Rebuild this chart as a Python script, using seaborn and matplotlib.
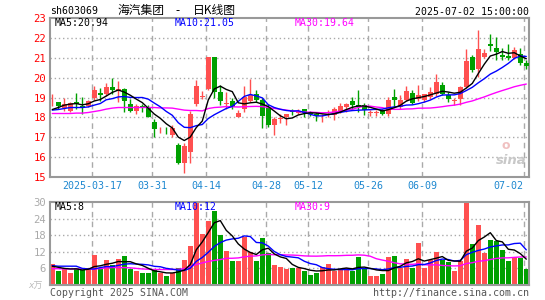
import numpy as np
import pandas as pd
import matplotlib
matplotlib.use("Agg")
import matplotlib.pyplot as plt
import seaborn as sns

# daily candles, 2025-03-06 .. 2025-07-02 (80 trading days)
opens = [18.82, 18.78, 18.50, 18.33, 18.78, 18.57, 18.60, 19.00, 19.25, 19.17,
         19.53, 19.32, 19.42, 18.70, 18.33, 18.58, 18.50, 17.75, 17.25, 17.22,
         17.12, 16.62, 15.72, 16.25, 18.70, 19.02, 19.45, 21.03, 19.28, 18.70,
         18.82, 18.02, 18.43, 18.83, 19.17, 18.87, 18.50, 17.60, 17.93, 18.03,
         18.32, 18.22, 18.42, 18.27, 18.20, 18.05, 18.15, 18.12, 18.27, 18.55,
         18.82, 18.62, 18.62, 18.25, 18.25, 18.37, 18.20, 19.03, 18.55, 18.87,
         19.25, 18.92, 18.87, 19.03, 19.17, 19.62, 19.12, 18.85, 18.95, 19.53,
         21.03, 20.42, 21.03, 21.67, 21.48, 21.12, 21.07, 20.98, 21.20, 20.73]
highs = [19.20, 18.80, 19.00, 18.80, 19.25, 19.05, 18.90, 19.58, 19.50, 19.72,
         20.00, 19.83, 19.50, 18.95, 18.70, 18.70, 18.62, 17.90, 17.50, 17.50,
         17.60, 16.72, 16.72, 18.35, 19.87, 19.35, 21.05, 21.05, 19.62, 19.28,
         19.00, 18.37, 19.58, 19.93, 19.40, 19.00, 18.70, 18.03, 18.15, 18.17,
         18.45, 18.45, 18.45, 18.35, 18.28, 18.20, 18.40, 18.53, 18.75, 18.75,
         19.03, 19.37, 18.72, 18.37, 18.37, 18.42, 19.03, 19.45, 19.15, 19.58,
         19.37, 19.62, 19.20, 19.55, 20.17, 19.78, 19.30, 18.98, 19.57, 21.45,
         21.12, 22.37, 21.45, 22.17, 22.03, 21.48, 21.70, 21.53, 21.48, 20.87]
lows = [18.58, 18.45, 18.35, 18.30, 18.45, 18.20, 18.55, 18.87, 18.85, 19.10,
        19.20, 18.80, 18.30, 18.28, 18.17, 18.28, 18.00, 17.00, 17.20, 17.15,
        17.03, 15.67, 15.20, 15.70, 18.60, 18.95, 19.37, 19.00, 18.62, 18.45,
        18.45, 18.00, 18.28, 18.80, 18.80, 17.45, 17.53, 17.10, 17.72, 17.62,
        18.10, 18.15, 18.00, 18.05, 17.80, 17.77, 18.03, 17.87, 18.22, 18.30,
        18.37, 18.30, 18.12, 18.08, 18.05, 18.12, 18.08, 18.53, 18.45, 18.82,
        18.70, 18.85, 18.80, 18.95, 19.10, 19.12, 18.80, 18.62, 18.62, 19.50,
        20.28, 20.03, 21.00, 21.32, 20.87, 20.87, 20.87, 20.95, 20.65, 20.42]
closes = [18.84, 18.57, 18.67, 18.75, 18.67, 18.50, 18.85, 19.37, 19.12, 19.55,
          19.40, 19.45, 18.85, 18.33, 18.58, 18.52, 18.03, 17.40, 17.27, 17.20,
          17.48, 15.72, 16.55, 18.15, 19.58, 19.10, 21.03, 19.30, 18.85, 18.75,
          18.55, 18.23, 19.03, 19.12, 18.90, 18.08, 17.60, 17.90, 17.95, 18.15,
          18.28, 18.35, 18.25, 18.15, 18.08, 18.08, 18.20, 18.42, 18.58, 18.70,
          18.65, 18.55, 18.38, 18.27, 18.27, 18.17, 18.87, 18.87, 18.87, 19.32,
          18.75, 19.15, 19.17, 19.28, 19.78, 19.20, 18.95, 18.88, 19.53, 20.82,
          20.37, 21.42, 21.23, 21.58, 21.28, 21.03, 20.98, 21.37, 20.75, 20.60]
# volume, 10k shares
volumes = [7.6, 4.9, 6.0, 4.5, 6.2, 5.5, 6.3, 10.8, 5.9, 9.0,
           7.3, 9.4, 10.5, 5.9, 5.1, 4.5, 4.2, 5.8, 4.3, 3.1,
           4.3, 6.1, 9.1, 14.2, 30.0, 18.5, 23.0, 26.8, 18.1, 12.3,
           8.5, 8.5, 17.5, 12.0, 8.6, 17.0, 11.4, 7.2, 6.6, 5.8,
           6.2, 6.0, 5.1, 3.6, 4.4, 6.6, 7.5, 5.1, 5.5, 6.0,
           5.1, 10.1, 5.7, 3.2, 3.2, 3.9, 10.1, 10.4, 6.3, 9.3,
           6.3, 15.1, 6.3, 8.9, 11.9, 9.2, 8.3, 5.0, 8.6, 30.0,
           14.9, 21.8, 11.4, 16.4, 15.8, 12.5, 8.5, 10.0, 9.9, 5.8]

# moving averages at the start need history that is off the chart
ma5_head = [18.40, 18.50, 18.62, 18.67]
ma10_head = [18.37, 18.40, 18.45, 18.50, 18.50, 18.50, 18.53, 18.62, 18.70]
ma30_head = [18.20, 18.20, 18.20, 18.20, 18.22, 18.22, 18.25, 18.30, 18.35, 18.42,
             18.47, 18.50, 18.50, 18.50, 18.50, 18.50, 18.50, 18.50, 18.48, 18.48,
             18.47, 18.42, 18.37, 18.35, 18.35, 18.33, 18.45, 18.50, 18.52]
vma5_head = [6.8, 6.4, 6.0, 5.8]
vma10_head = [7.0, 6.8, 6.8, 6.8, 6.8, 6.0, 5.8, 5.8, 6.3]
vma30_head = [5.9, 5.9, 5.8, 5.8, 5.8, 5.8, 5.8, 5.8, 5.9, 6.2,
              6.3, 6.3, 6.3, 6.2, 6.0, 5.8, 5.7, 5.6, 5.6, 5.6,
              5.6, 5.7, 5.9, 6.6, 7.4, 8.0, 8.5, 8.9, 9.2]

date_ticks = [7, 17, 26, 36, 43, 53, 62, 79]
date_labels = ["2025-03-17", "03-31", "04-14", "04-28", "05-12", "05-26", "06-09", "07-02"]

RED = "#ff5050"
GREEN = "#00a000"
GRID = "#aaaaaa"
FRAME = "#999999"


def moving(values, n, head):
    s = pd.Series(values).rolling(n).mean()
    s.iloc[:len(head)] = head
    return s


df = pd.DataFrame({"open": opens, "high": highs, "low": lows,
                   "close": closes, "vol": volumes})
df["x"] = np.arange(len(df))
df["ma5"] = moving(closes, 5, ma5_head)
df["ma10"] = moving(closes, 10, ma10_head)
df["ma30"] = moving(closes, 30, ma30_head)
df["vma5"] = moving(volumes, 5, vma5_head)
df["vma10"] = moving(volumes, 10, vma10_head)
df["vma30"] = moving(volumes, 30, vma30_head)
df["color"] = np.where(df["close"] >= df["open"], RED, GREEN)

sns.set_style("white")
plt.rcParams["font.family"] = ["DejaVu Sans Mono", "Noto Sans CJK SC"]

W, H = 545, 300
fig = plt.figure(figsize=(W / 100, H / 100), dpi=100)
ax = fig.add_axes([50 / W, 1 - 177.3 / H, 479 / W, 159.5 / H])
axv = fig.add_axes([50 / W, 1 - 285 / H, 479 / W, 83 / H])
X0 = -0.38

for a in (ax, axv):
    a.set_xlim(X0, 79.45)
    for sp in a.spines.values():
        sp.set_color(FRAME)
        sp.set_linewidth(1.5)
    for t in date_ticks:
        a.axvline(t - 0.33, color=GRID, lw=1, ls=(0, (4, 3)), zorder=0)
    a.set_xticks([])

# price panel
ax.set_ylim(15, 23)
for v in range(16, 23):
    ax.axhline(v, color=GRID, lw=1, ls=(0, (1, 2)), zorder=0)
ax.set_yticks(range(15, 24))
ax.tick_params(axis="y", length=0, pad=2.8, labelsize=7.6, labelcolor="#ff0000")

body = (df["close"] - df["open"]).abs().clip(lower=0.03)
bottom = df[["open", "close"]].min(axis=1)
ax.vlines(df["x"], df["low"], df["high"], colors=df["color"], lw=1, zorder=2)
ax.bar(df["x"], body, bottom=bottom, width=0.75, color=df["color"], lw=0, zorder=3)

sns.lineplot(data=df, x="x", y="ma30", ax=ax, color="#ff00ff", lw=1, zorder=4)
sns.lineplot(data=df, x="x", y="ma10", ax=ax, color="#0000ff", lw=1, zorder=5)
sns.lineplot(data=df, x="x", y="ma5", ax=ax, color="#000000", lw=1, zorder=6)
ax.set_xlabel("")
ax.set_ylabel("")

# volume panel
axv.set_ylim(0, 30)
for v in (6, 12, 18, 24):
    axv.axhline(v, color=GRID, lw=1, ls=(0, (1, 2)), zorder=0)
axv.set_yticks([6, 12, 18, 24, 30])
axv.tick_params(axis="y", length=0, pad=2.8, labelsize=7.6, labelcolor="#aaaaaa")
axv.bar(df["x"], df["vol"], width=0.8, color=df["color"], lw=0, zorder=2)
sns.lineplot(data=df, x="x", y="vma30", ax=axv, color="#ff00ff", lw=1, zorder=4)
sns.lineplot(data=df, x="x", y="vma10", ax=axv, color="#0000ff", lw=1, zorder=5)
sns.lineplot(data=df, x="x", y="vma5", ax=axv, color="#000000", lw=1, zorder=6)
axv.set_xlabel("")
axv.set_ylabel("")


def ftext(x, y, s, **kw):
    fig.text(x / W, 1 - y / H, s, va="center", **kw)


# date labels (the last one is kept inside the frame)
for t, lab in zip(date_ticks, date_labels):
    xp = 50 + (t - 0.33 - X0) * 6.0
    if t == date_ticks[-1]:
        ftext(523, 186, lab, ha="right", fontsize=7.2, color="#1e88d0")
    else:
        ftext(xp, 186, lab, ha="center", fontsize=7.2, color="#1e88d0")

ftext(50, 10.5, "sh603069", fontsize=7.1, color="black")
cjk = ["Noto Sans CJK SC", "DejaVu Sans"]
ftext(141.5, 10.5, "海汽集团", ha="center", fontsize=8.5, color="black", family=cjk)
ftext(178, 10.5, "-", ha="center", fontsize=8.5, color="black", family=cjk)
ftext(214, 10.5, "日K线图", ha="center", fontsize=8.5, color="black", family=cjk)
ftext(529, 12, "2025-07-02 15:00:00", ha="right", fontsize=7.1, color="black")

ftext(55, 23.5, "MA5:20.94", fontsize=7.1, color="black")
ftext(175, 23.5, "MA10:21.05", fontsize=7.1, color="#0000ff")
ftext(295, 23.5, "MA30:19.64", fontsize=7.1, color="#ff00ff")

ftext(55, 206.5, "MA5:8", fontsize=7.1, color="black")
ftext(175, 206.5, "MA10:12", fontsize=7.1, color="#0000ff")
ftext(295, 206.5, "MA30:9", fontsize=7.1, color="#ff00ff")

ftext(28, 286, "x万", fontsize=6.5, color="#bbbbbb", style="italic",
      family=["DejaVu Sans", "Noto Sans CJK SC"])
ftext(50, 292.5, "Copyright 2025 SINA.COM", fontsize=7.1, color="#555555")
ftext(529, 292.5, "http://finance.sina.com.cn", ha="right", fontsize=7.2, color="#555555")

# watermark
ftext(511, 161, "sina", ha="center", fontsize=9.5, color="#c8c8c8",
      weight="bold", style="italic", family="DejaVu Sans")
ftext(506, 145, "o", ha="center", fontsize=9, color="#f0c0c0", weight="bold",
      family="DejaVu Sans")

fig.savefig("out.png", dpi=100)
